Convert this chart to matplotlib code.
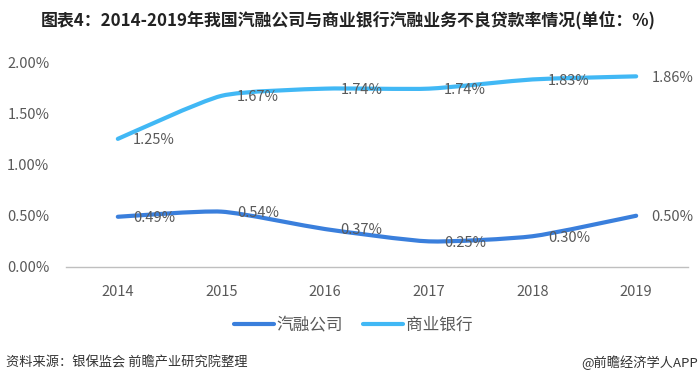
import numpy as np
import matplotlib
matplotlib.use('Agg')
import matplotlib.pyplot as plt
from matplotlib.path import Path
from matplotlib.patches import PathPatch
from matplotlib.lines import Line2D

plt.rcParams['font.family'] = ['Noto Sans CJK SC', 'DejaVu Sans']

# 数据
years = ['2014', '2015', '2016', '2017', '2018', '2019']
qirong = [0.49, 0.54, 0.37, 0.25, 0.30, 0.50]      # 汽融公司
shangye = [1.25, 1.67, 1.74, 1.74, 1.83, 1.86]     # 商业银行

c_dark = '#3a7fdc'
c_light = '#41b8f5'
c_text = '#595959'


def smooth_path(xs, ys, s=0.2):
    # 平滑曲线 (贝塞尔)
    pts = np.column_stack([xs, ys]).astype(float)
    verts = [pts[0]]
    codes = [Path.MOVETO]
    n = len(pts)
    for i in range(n - 1):
        p0 = pts[max(i - 1, 0)]
        p1 = pts[i]
        p2 = pts[i + 1]
        p3 = pts[min(i + 2, n - 1)]
        c1 = p1 + (p2 - p0) * s / 2
        c2 = p2 - (p3 - p1) * s / 2
        verts += [c1, c2, p2]
        codes += [Path.CURVE4] * 3
    return Path(verts, codes)


fig = plt.figure(figsize=(7, 3.84), dpi=100)
ax = fig.add_axes([66 / 700, 1 - 267 / 384, 622 / 700, 205 / 384])

x = np.arange(len(years))
for vals, col in [(qirong, c_dark), (shangye, c_light)]:
    ax.add_patch(PathPatch(smooth_path(x, vals), facecolor='none', edgecolor=col,
                           lw=3, capstyle='round', joinstyle='round', clip_on=False))
    for xi, v in zip(x, vals):
        ax.annotate(f'{v:.2f}%', (xi, v), xytext=(11, -1), textcoords='offset points',
                    ha='left', va='center', fontsize=10.5, color=c_text)

ax.set_xlim(-0.5, 5.5)
ax.set_ylim(0, 2.0)
ax.set_xticks(x)
ax.set_xticklabels(years)
yt = [0, 0.5, 1.0, 1.5, 2.0]
ax.set_yticks(yt)
ax.set_yticklabels([f'{v:.2f}%' for v in yt])
ax.tick_params(axis='both', length=0, labelsize=10.5, colors=c_text)
ax.tick_params(axis='x', pad=13)
ax.tick_params(axis='y', pad=12)
for sp in ['top', 'right', 'left']:
    ax.spines[sp].set_visible(False)
ax.spines['bottom'].set_color('#bfbfbf')
ax.spines['bottom'].set_linewidth(1)

handles = [Line2D([], [], color=c_dark, lw=3, solid_capstyle='round'),
           Line2D([], [], color=c_light, lw=3, solid_capstyle='round')]
fig.legend(handles, ['汽融公司', '商业银行'], loc='center', bbox_to_anchor=(353 / 700, 1 - 325 / 384),
           ncol=2, frameon=False, fontsize=12, handlelength=2.4, handletextpad=0.15,
           columnspacing=1.2, labelcolor=c_text)

fig.text(348 / 700, 1 - 20 / 384, '图表4：2014-2019年我国汽融公司与商业银行汽融业务不良贷款率情况(单位：%)',
         ha='center', va='center', fontsize=12.2, fontweight='bold', color='#222222')
fig.text(6 / 700, 1 - 363 / 384, '资料来源：银保监会 前瞻产业研究院整理', ha='left', va='center',
         fontsize=9.5, color='#333333')
fig.text(698 / 700, 1 - 363 / 384, '@前瞻经济学人APP', ha='right', va='center',
         fontsize=9.5, color='#333333')

fig.savefig('out.png', dpi=100)
